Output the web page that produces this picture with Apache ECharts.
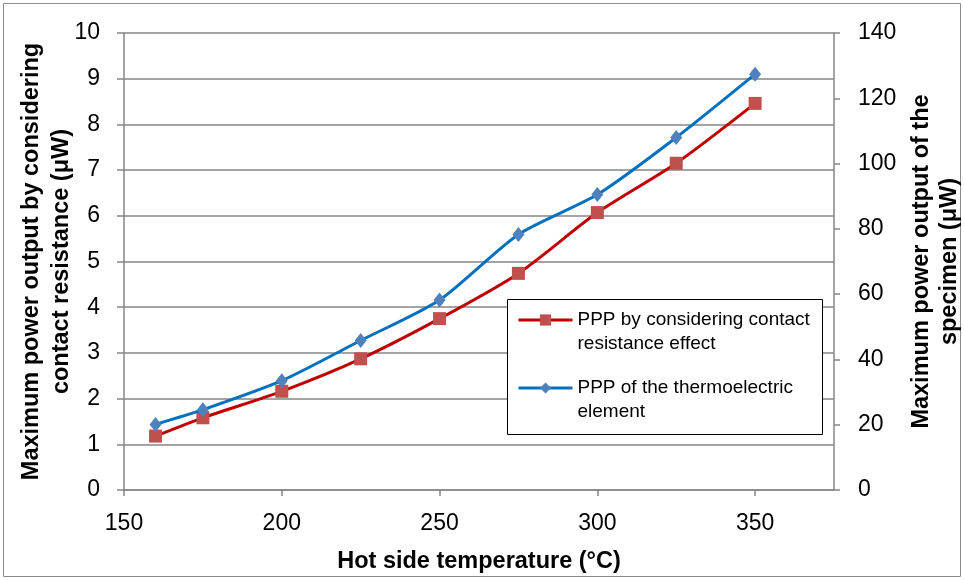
<!DOCTYPE html>
<html><head><meta charset="utf-8">
<script src="https://cdn.jsdelivr.net/npm/echarts@6/dist/echarts.min.js"></script>
<style>html,body{margin:0;padding:0;background:#fff}#c{width:964px;height:580px}</style>
</head><body><div id="c"></div>
<script>
const temps = [160, 175, 200, 225, 250, 275, 300, 325, 350];
const pppContact = [1.18, 1.58, 2.16, 2.87, 3.75, 4.74, 6.07, 7.15, 8.46];
const pppElement = [20.1, 24.6, 33.5, 45.8, 58.2, 78.3, 90.5, 108.0, 127.4];
const nameContact = 'PPP by considering contact\nresistance effect';
const nameElement = 'PPP of the thermoelectric\nelement';
const FONT = 'Liberation Sans';
const chart = echarts.init(document.getElementById('c'));
const axisGray = '#868686';
chart.setOption({
  animation: false,
  textStyle: { fontFamily: FONT },
  graphic: [
    { type: 'rect', z: 0, shape: { x: 3.5, y: 3.5, width: 957, height: 573 }, style: { fill: 'none', stroke: '#8c8c8c', lineWidth: 1 }, silent: true },
    { type: 'rect', z: 3, shape: { x: 507.5, y: 299.5, width: 315, height: 135 }, style: { fill: '#fff', stroke: '#000', lineWidth: 1 }, silent: true }
  ],
  grid: { left: 124, right: 130, top: 33, bottom: 90, outerBoundsMode: 'none', containLabel: false },
  legend: {
    orient: 'vertical', left: 517, top: 284,
    padding: 0, itemGap: -4, itemWidth: 54, itemHeight: 14,
    formatter: n => '\n' + n,
    lineStyle: { width: 3 },
    textStyle: { fontFamily: FONT, fontSize: 19, color: '#000', lineHeight: 24 },
    data: [nameContact, nameElement]
  },
  xAxis: {
    type: 'value', min: 150, max: 375, interval: 50,
    name: 'Hot side temperature (°C)', nameLocation: 'middle', nameGap: 60, nameMoveOverlap: false,
    nameTextStyle: { fontFamily: FONT, fontSize: 23.5, fontWeight: 'bold', color: '#000' },
    axisLine: { show: true, lineStyle: { color: axisGray, width: 1.5 } },
    axisTick: { show: true, inside: false, length: 6, lineStyle: { color: axisGray, width: 1.5 } },
    axisLabel: { fontFamily: FONT, fontSize: 23, color: '#000', margin: 22, showMaxLabel: false },
    splitLine: { show: false }
  },
  yAxis: [{
    type: 'value', min: 0, max: 10, interval: 1, position: 'left',
    name: 'Maximum power output by considering\ncontact resistance (μW)', nameLocation: 'middle', nameGap: 47, nameMoveOverlap: false,
    nameTextStyle: { fontFamily: FONT, fontSize: 23.5, fontWeight: 'bold', color: '#000', lineHeight: 30 },
    axisLine: { show: true, lineStyle: { color: axisGray, width: 1.5 } },
    axisTick: { show: true, inside: false, length: 7, lineStyle: { color: axisGray, width: 1.5 } },
    axisLabel: { fontFamily: FONT, fontSize: 23, color: '#000', margin: 24 },
    splitLine: { show: true, lineStyle: { color: axisGray, width: 1.5 } }
  }, {
    type: 'value', min: 0, max: 140, interval: 20, position: 'right',
    name: 'Maximum power output of the\nspecimen (μW)', nameLocation: 'middle', nameGap: 74, nameMoveOverlap: false,
    nameTextStyle: { fontFamily: FONT, fontSize: 23.5, fontWeight: 'bold', color: '#000', lineHeight: 28 },
    axisLine: { show: true, lineStyle: { color: axisGray, width: 1.5 } },
    axisTick: { show: true, inside: false, length: 6, lineStyle: { color: axisGray, width: 1.5 } },
    axisLabel: { fontFamily: FONT, fontSize: 23, color: '#000', margin: 24 },
    splitLine: { show: false }
  }],
  series: [{
    name: nameContact, type: 'line', yAxisIndex: 0, smooth: 0.25,
    data: temps.map((t, i) => [t, pppContact[i]]),
    lineStyle: { color: '#C00000', width: 3 },
    symbol: 'rect', symbolSize: 13,
    itemStyle: { color: '#C0504D' }, z: 2
  }, {
    name: nameElement, type: 'line', yAxisIndex: 1, smooth: 0.25,
    data: temps.map((t, i) => [t, pppElement[i]]),
    lineStyle: { color: '#0070C0', width: 3 },
    symbol: 'diamond', symbolSize: [12, 15],
    itemStyle: { color: '#4F81BD' }, z: 3
  }]
});
</script></body></html>
